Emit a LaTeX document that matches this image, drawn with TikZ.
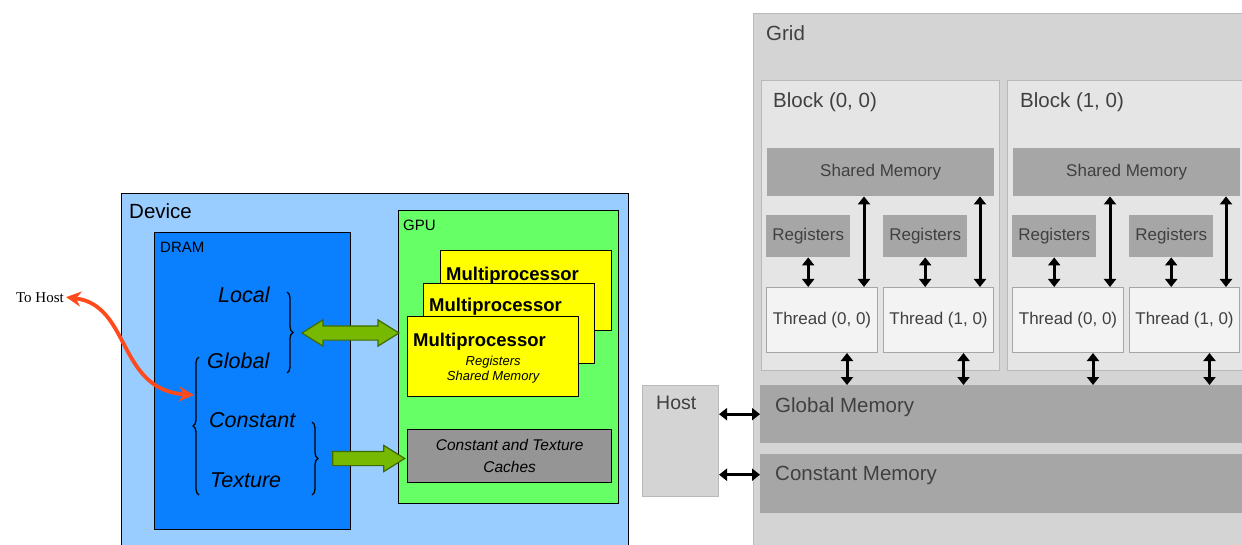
\documentclass[tikz,border=0pt]{standalone}
\usepackage{fontspec}
\setmainfont{Liberation Sans}
\newfontfamily\hostfont{Liberation Serif}
\usetikzlibrary{arrows.meta,positioning,shapes.arrows,decorations.pathreplacing}
\definecolor{CudaDevice}{HTML}{99CCFF}
\definecolor{CudaDram}{HTML}{0A80FF}
\definecolor{CudaGpu}{HTML}{66FF66}
\definecolor{CudaMp}{HTML}{FFFF00}
\definecolor{CudaCache}{HTML}{959595}
\definecolor{CudaLink}{HTML}{76B900}
\definecolor{CudaLinkEdge}{HTML}{3F6A00}
\definecolor{CudaRed}{HTML}{FF4A1C}
\definecolor{CudaGrid}{HTML}{D3D4D3}
\definecolor{CudaGridEdge}{HTML}{B9B9B9}
\definecolor{CudaBlock}{HTML}{E5E5E5}
\definecolor{CudaMem}{HTML}{A6A6A6}
\definecolor{CudaThread}{HTML}{F3F3F3}
\definecolor{CudaInk}{HTML}{404040}
\tikzset{
  cudabox/.style={anchor=north west, inner sep=0pt, draw=black, line width=1.3pt},
  devbox/.style={cudabox, fill=CudaDevice},
  drambox/.style={cudabox, fill=CudaDram},
  gpubox/.style={cudabox, fill=CudaGpu},
  mpbox/.style={cudabox, fill=CudaMp, minimum width=171, minimum height=80},
  cachebox/.style={cudabox, fill=CudaCache, align=center,
    font=\itshape\fontsize{15.5}{22}\selectfont},
  boxlabel/.style={anchor=north west, inner sep=0pt},
  memname/.style={anchor=base west, inner sep=0pt,
    font=\itshape\fontsize{21.5}{26}\selectfont},
  mplabel/.style={anchor=base west, inner sep=0pt,
    font=\bfseries\fontsize{18.5}{22}\selectfont},
  membrace/.style={decorate, decoration={brace, amplitude=6pt}, line width=1.3pt},
  linksingle/.style={single arrow, single arrow head extend=6pt,
    single arrow tip angle=64, inner xsep=0pt, inner ysep=6.5pt,
    fill=CudaLink, draw=CudaLinkEdge, line width=1.2pt},
  linkdouble/.style={double arrow, double arrow head extend=6pt,
    double arrow tip angle=64, inner xsep=0pt, inner ysep=6.5pt,
    fill=CudaLink, draw=CudaLinkEdge, line width=1.2pt},
  hostlink/.style={{Stealth[length=15pt,width=15pt]}-{Stealth[length=15pt,width=15pt]},
    line width=3.8pt, draw=CudaRed},
  gridpanel/.style={anchor=north west, inner sep=0pt, fill=CudaGrid,
    draw=CudaGridEdge, line width=1pt},
  blockpanel/.style={gridpanel, fill=CudaBlock},
  memcell/.style={anchor=north west, inner sep=0pt, fill=CudaMem, text=CudaInk,
    font=\fontsize{17}{20}\selectfont},
  threadcell/.style={anchor=north west, inner sep=0pt, fill=CudaThread,
    draw=CudaMem, line width=1pt, text=CudaInk, font=\fontsize{17}{20}\selectfont},
  gridlabel/.style={anchor=north west, inner sep=0pt, text=CudaInk,
    font=\fontsize{20.5}{24}\selectfont},
  gridarrow/.style={{Triangle[width=12pt,length=8pt]}-{Triangle[width=12pt,length=8pt]},
    line width=3pt}
}
\begin{document}
\begin{tikzpicture}[x=1pt,y=-1pt]
  \useasboundingbox (0,0) rectangle (1242,545);
  % device side
  \node[devbox, minimum width=507, minimum height=370] (device) at (121,193) {};
  \node[boxlabel, font=\fontsize{20.5}{24}\selectfont] (devicename) at ([shift={(8,10)}]device.north west) {Device};
  \node[drambox, minimum width=196, minimum height=297] (dram) at (154,232) {};
  \node[boxlabel, font=\fontsize{15}{18}\selectfont] (dramname) at ([shift={(6,10)}]dram.north west) {DRAM};
  \node[memname] (local) at (218,303) {Local};
  \node[memname] (global) at (207,368) {Global};
  \node[memname] (constant) at (209,427) {Constant};
  \node[memname] (texture) at (210,487) {Texture};
  \draw[membrace] (287,292) -- (287,373);
  \draw[membrace] (199,495) -- (199,357);
  \draw[membrace] (312,422) -- (312,495);
  \node[gpubox, minimum width=220, minimum height=293] (gpu) at (398,210) {};
  \node[boxlabel, font=\fontsize{15}{18}\selectfont] (gpuname) at ([shift={(5,10)}]gpu.north west) {GPU};
  \node[mpbox] (mpback) at (440,250) {};
  \node[mplabel] at ([shift={(6,30)}]mpback.north west) {Multiprocessor};
  \node[mpbox] (mpmid) at (423,283) {};
  \node[mplabel] at ([shift={(6,29)}]mpmid.north west) {Multiprocessor};
  \node[mpbox] (mpfront) at (407,316) {};
  \node[mplabel] at ([shift={(6,30)}]mpfront.north west) {Multiprocessor};
  \node[inner sep=0pt, align=center, font=\itshape\fontsize{13}{15}\selectfont] (mpmem) at ([shift={(0,13)}]mpfront.center) {Registers\\Shared Memory};
  \node[cachebox, minimum width=204, minimum height=53] (caches) at (407,429) {Constant and Texture\\Caches};
  \coordinate (lgend) at (303,333);
  \coordinate (ctend) at (328,458.5);
  \path (lgend) -- (lgend -| gpu.west) node[midway, linkdouble, minimum height=97] (gpulink) {};
  \path (ctend) -- (ctend -| gpu.west) node[midway, linksingle, minimum height=72] (cachelink) {};
  \node[anchor=base east, inner sep=2pt, font=\hostfont\fontsize{15}{18}\selectfont] (tohost) at (66,302) {To Host};
  \coordinate (globalin) at (194,395);
  \draw[hostlink] (tohost.east) .. controls +(65,8) and +(-77,-5) .. (globalin);
  % grid side
  \node[gridpanel, minimum width=510, minimum height=545] (grid) at (753,13) {};
  \node[gridlabel] (gridname) at ([shift={(13,12)}]grid.north west) {Grid};
  \node[blockpanel, minimum width=238, minimum height=290] (b0) at (761,80) {};
  \node[gridlabel] (b0name) at ([shift={(12,12)}]b0.north west) {Block (0, 0)};
  \node[blockpanel, minimum width=245, minimum height=290] (b1) at (1007,80) {};
  \node[gridlabel] (b1name) at ([shift={(13,12)}]b1.north west) {Block (1, 0)};
  \node[memcell, minimum width=227, minimum height=48] (b0sm) at (767,148) {Shared Memory};
  \node[memcell, minimum width=227, minimum height=48] (b1sm) at (1013,148) {Shared Memory};
  \node[memcell, minimum width=84, minimum height=42] (b0reg0) at (766,215) {Registers};
  \node[memcell, minimum width=84, minimum height=42] (b0reg1) at (883,215) {Registers};
  \node[memcell, minimum width=84, minimum height=42] (b1reg0) at (1012,215) {Registers};
  \node[memcell, minimum width=84, minimum height=42] (b1reg1) at (1129,215) {Registers};
  \node[threadcell, minimum width=111, minimum height=65] (b0th0) at (766,287) {Thread (0, 0)};
  \node[threadcell, minimum width=110, minimum height=65] (b0th1) at (883,287) {Thread (1, 0)};
  \node[threadcell, minimum width=111, minimum height=65] (b1th0) at (1012,287) {Thread (0, 0)};
  \node[threadcell, minimum width=110, minimum height=65] (b1th1) at (1129,287) {Thread (1, 0)};
  \node[memcell, minimum width=490, minimum height=58] (gmem) at (760,385) {};
  \node[gridlabel] (gmemname) at ([shift={(15,12)}]gmem.north west) {Global Memory};
  \node[memcell, minimum width=490, minimum height=59] (cmem) at (760,454) {};
  \node[gridlabel] (cmemname) at ([shift={(15,12)}]cmem.north west) {Constant Memory};
  \node[gridpanel, minimum width=76, minimum height=111] (host) at (642,385) {};
  \node[gridlabel, font=\fontsize{19.5}{23}\selectfont] (hostname) at ([shift={(14,11)}]host.north west) {Host};
  % registers <-> threads
  \draw[gridarrow] (b0reg0.south) -- (b0reg0.south |- b0th0.north);
  \draw[gridarrow] (b0reg1.south) -- (b0reg1.south |- b0th1.north);
  \draw[gridarrow] (b1reg0.south) -- (b1reg0.south |- b1th0.north);
  \draw[gridarrow] (b1reg1.south) -- (b1reg1.south |- b1th1.north);
  % shared memory <-> threads
  \coordinate (b0up0) at ([shift={(-14,0)}]b0th0.north east);
  \coordinate (b0up1) at ([shift={(-14,0)}]b0th1.north east);
  \coordinate (b1up0) at ([shift={(-14,0)}]b1th0.north east);
  \coordinate (b1up1) at ([shift={(-14,0)}]b1th1.north east);
  \draw[gridarrow] (b0up0) -- (b0up0 |- b0sm.south);
  \draw[gridarrow] (b0up1) -- (b0up1 |- b0sm.south);
  \draw[gridarrow] (b1up0) -- (b1up0 |- b1sm.south);
  \draw[gridarrow] (b1up1) -- (b1up1 |- b1sm.south);
  % threads <-> global memory
  \coordinate (b0dn0) at ([shift={(25,0)}]b0th0.south);
  \coordinate (b0dn1) at ([shift={(25,0)}]b0th1.south);
  \coordinate (b1dn0) at ([shift={(25,0)}]b1th0.south);
  \coordinate (b1dn1) at ([shift={(25,0)}]b1th1.south);
  \draw[gridarrow] (b0dn0) -- (b0dn0 |- gmem.north);
  \draw[gridarrow] (b0dn1) -- (b0dn1 |- gmem.north);
  \draw[gridarrow] (b1dn0) -- (b1dn0 |- gmem.north);
  \draw[gridarrow] (b1dn1) -- (b1dn1 |- gmem.north);
  % host <-> memories
  \coordinate (cmemin) at ([shift={(0,-9)}]cmem.west);
  \draw[gridarrow] (host.east |- gmem.west) -- (gmem.west);
  \draw[gridarrow] (host.east |- cmemin) -- (cmemin);
\end{tikzpicture}
\end{document}
